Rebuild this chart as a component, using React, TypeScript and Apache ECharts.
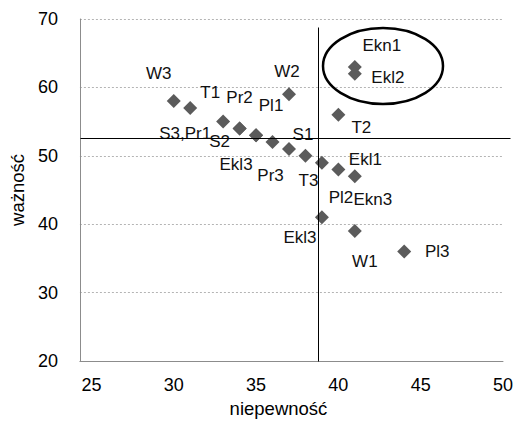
import React, { useEffect, useRef } from "react";
import * as echarts from "echarts";

const pointNames = ["W3", "T1", "S3,Pr1", "Pr2", "S2", "Pl1", "Ekl3", "Pr3", "S1", "T3", "Pl2", "Ekl1", "Ekn3", "Ekl3", "W1", "Pl3", "T2", "Ekn1", "Ekl2", "W2"];
const uncertainty = [30, 31, 33, 34, 34, 35, 35, 36, 37, 38, 39, 40, 41, 39, 41, 44, 40, 41, 41, 37];
const importance = [58, 57, 55, 54, 54, 53, 53, 52, 51, 50, 49, 48, 47, 41, 39, 36, 56, 63, 62, 59];
const labelOffsets: [number, number][] = [
  [-15, -28], [20, -15], [-38, 12], [0, -31], [-20, 13], [15, -30], [-20, 29], [-2, 33], [14, -14], [3, 25],
  [19, 35], [27, -10], [18, 23], [-22, 20], [10, 30], [33, 0], [23, 13], [27, -21], [33, 4], [-2, -23],
];
const xTicks = [25, 30, 35, 40, 45, 50];
const xMin = 24.3;
const xMax = 50;
const yMin = 20;
const yMax = 70;
const yStep = 10;
const vLineX = 38.75;
const vLineTop = 68.8;
const hLineY = 52.6;
const hLineRight = 50.45;

const FONT = "Liberation Sans";

export default function App() {
  const ref = useRef<HTMLDivElement>(null);
  useEffect(() => {
    if (!ref.current) return;
    const chart = echarts.init(ref.current, null, { renderer: "svg" });
    const data = pointNames.map((n, i) => ({
      name: n,
      value: [uncertainty[i], importance[i]],
      label: { offset: labelOffsets[i] },
    }));
    chart.setOption({
      animation: false,
      backgroundColor: "#fff",
      grid: { left: 77, right: 11, top: 19, bottom: 64 },
      xAxis: {
        type: "value",
        min: xMin,
        max: xMax,
        name: "niepewność",
        nameLocation: "middle",
        nameGap: 30,
        nameTextStyle: { fontFamily: FONT, fontSize: 18.5, color: "#000", padding: [0, 26, 0, 0] },
        axisLine: { show: true, onZero: false, lineStyle: { color: "#8c8c8c", width: 1 } },
        axisTick: { show: false },
        splitLine: { show: false },
        axisLabel: {
          customValues: xTicks,
          fontFamily: FONT,
          fontSize: 18,
          color: "#000",
          margin: 15,
        },
      },
      yAxis: {
        type: "value",
        min: yMin,
        max: yMax,
        interval: yStep,
        name: "ważność",
        nameLocation: "middle",
        nameGap: 46,
        nameTextStyle: { fontFamily: FONT, fontSize: 18.5, color: "#000" },
        axisLine: { show: true, lineStyle: { color: "#8c8c8c", width: 1 } },
        axisTick: { show: false },
        splitLine: { show: true, lineStyle: { color: "#b4b4b4", type: [2, 2], width: 1 } },
        axisLabel: { fontFamily: FONT, fontSize: 18, color: "#000", margin: 22 },
      },
      series: [
        {
          type: "scatter",
          symbol: "diamond",
          symbolSize: 14,
          itemStyle: { color: "#5b5b5b", opacity: 1 },
          clip: false,
          label: {
            show: true,
            position: "inside",
            formatter: "{b}",
            fontFamily: FONT,
            fontSize: 17,
            color: "#111",
            align: "center",
            verticalAlign: "middle",
          },
          data,
        },
      ],
    });
    const p = (x: number, y: number) =>
      (chart.convertToPixel({ gridIndex: 0 }, [x, y]) as number[]).map((v) => Math.round(v) + 0.5);
    const vTop = p(vLineX, vLineTop);
    const vBot = p(vLineX, yMin);
    const hL = p(xMin, hLineY);
    const hR = p(hLineRight, hLineY);
    chart.setOption({
      graphic: [
        {
          type: "line",
          shape: { x1: vTop[0], y1: vTop[1], x2: vBot[0], y2: vBot[1] },
          style: { stroke: "#000", lineWidth: 1 },
          z: 5,
        },
        {
          type: "line",
          shape: { x1: hL[0], y1: hL[1], x2: hR[0], y2: hR[1] },
          style: { stroke: "#000", lineWidth: 1 },
          z: 5,
        },
        {
          type: "ellipse",
          shape: { cx: 383, cy: 66, rx: 60, ry: 38 },
          style: { fill: "none", stroke: "#000", lineWidth: 2.5 },
          z: 10,
        },
      ],
    });
    return () => chart.dispose();
  }, []);
  return (
    <div
      ref={ref}
      style={{ position: "fixed", left: 0, top: 0, width: 516, height: 425, background: "#fff" }}
    />
  );
}
